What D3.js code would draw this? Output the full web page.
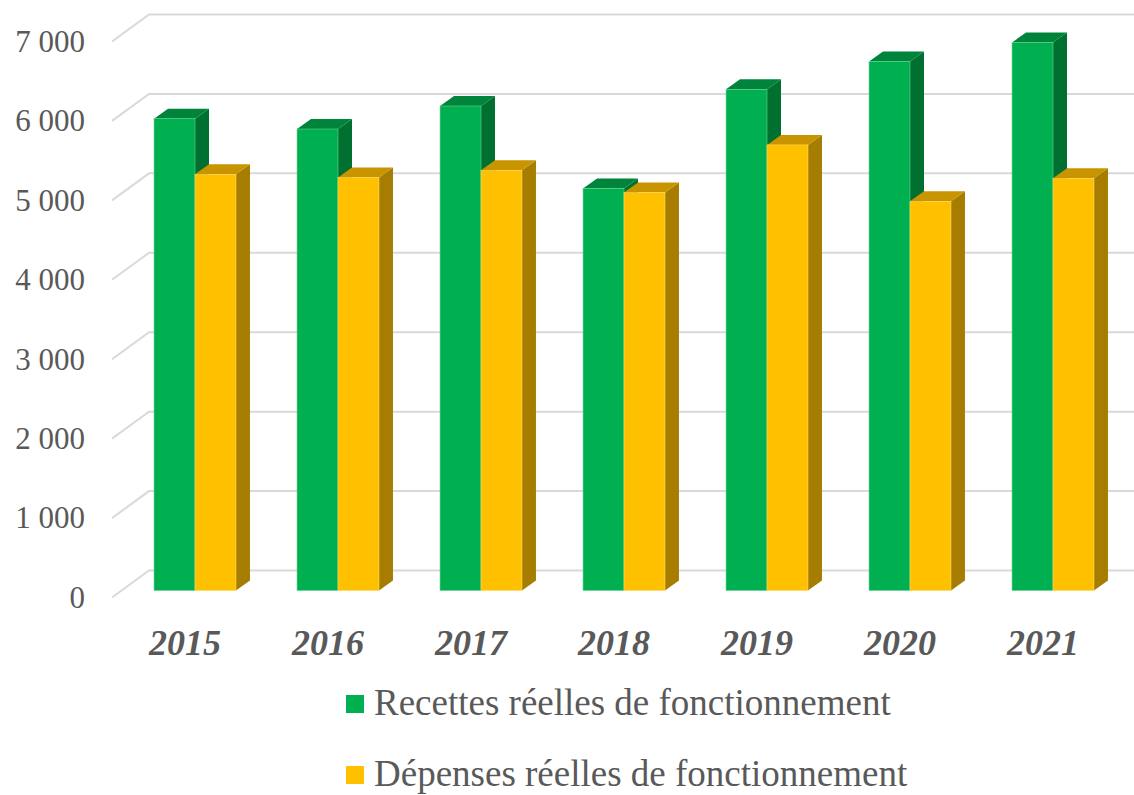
<!DOCTYPE html>
<html>
<head>
<meta charset="utf-8">
<script src="https://cdn.jsdelivr.net/npm/d3@7"></script>
<style>
  html, body { margin: 0; padding: 0; background: #fff; }
  svg { display: block; }
  text { font-family: "Liberation Serif", "Times New Roman", serif; }
</style>
</head>
<body>
<svg width="1134" height="795"></svg>
<script>
const years = ["2015", "2016", "2017", "2018", "2019", "2020", "2021"];
const seriesNames = ["Recettes réelles de fonctionnement", "Dépenses réelles de fonctionnement"];
const recettes = [5940, 5810, 6100, 5060, 6310, 6660, 6900];
const depenses = [5240, 5200, 5290, 5010, 5610, 4900, 5190];
const yTicks = [0, 1000, 2000, 3000, 4000, 5000, 6000, 7000];

const colors = [
  { front: "#00b050", top: "#00843c", side: "#007030", edge: "#5ed48e" },
  { front: "#ffc000", top: "#c89400", side: "#a67d00", edge: "#ffd966" },
];

const svg = d3.select("svg");
const width = +svg.attr("width");

// oblique 3D offsets
const wall = { dx: 37, dy: -27 };   // back wall
const barFront = { dx: 10, dy: -7 }; // where bars start in depth
const barDepth = { dx: 14, dy: -10 };

const x0 = d3.scaleBand()
  .domain(years)
  .range([113.5, 1114.5])
  .paddingInner(0.427)
  .paddingOuter(0.2135);

const x1 = d3.scaleBand()
  .domain([0, 1])
  .range([0, x0.bandwidth()]);

const y = d3.scaleLinear().domain([0, 7000]).range([597.5, 41.5]);

const fr = d3.formatLocale({ decimal: ",", thousands: " ", grouping: [3], currency: ["", " €"] });
const fmt = fr.format(",d");

// gridlines: front diagonal then along the back wall
svg.append("g")
  .selectAll("path")
  .data(yTicks)
  .join("path")
  .attr("d", (d) => {
    const yy = y(d);
    return `M112,${yy} L${112 + wall.dx},${yy + wall.dy} L${width},${yy + wall.dy}`;
  })
  .attr("fill", "none")
  .attr("stroke", "#d9d9d9")
  .attr("stroke-width", 2);

// y axis labels
const yAxis = d3.axisLeft(y).tickValues(yTicks).tickSize(0).tickPadding(27).tickFormat(fmt);
const yg = svg.append("g").attr("transform", "translate(112,0)").call(yAxis);
yg.select(".domain").remove();
yg.attr("font-family", null);
yg.selectAll("text")
  .attr("font-size", 31)
  .attr("fill", "#595959");

// bars
const rows = [];
years.forEach((yr, i) => {
  [recettes[i], depenses[i]].forEach((v, s) => rows.push({ year: yr, s, v }));
});

const bars = svg.append("g")
  .selectAll("g")
  .data(rows)
  .join("g");

const y0 = y(0) + barFront.dy;
const bx = (d) => x0(d.year) + x1(d.s) + barFront.dx;
const bw = x1.bandwidth();
const ty = (d) => y(d.v) + barFront.dy;

bars.append("path")
  .attr("d", (d) => {
    const l = bx(d), r = l + bw, t = ty(d);
    return `M${r},${t} L${r + barDepth.dx},${t + barDepth.dy} L${r + barDepth.dx},${y0 + barDepth.dy} L${r},${y0} Z`;
  })
  .attr("fill", (d) => colors[d.s].side);

bars.append("path")
  .attr("d", (d) => {
    const l = bx(d), r = l + bw, t = ty(d);
    return `M${l},${t} L${l + barDepth.dx},${t + barDepth.dy} L${r + barDepth.dx},${t + barDepth.dy} L${r},${t} Z`;
  })
  .attr("fill", (d) => colors[d.s].top);

bars.append("rect")
  .attr("x", bx)
  .attr("y", ty)
  .attr("width", bw)
  .attr("height", (d) => y0 - ty(d))
  .attr("fill", (d) => colors[d.s].front)
  .attr("stroke", (d) => colors[d.s].edge)
  .attr("stroke-width", 0.6);

// category labels
svg.append("g")
  .selectAll("text")
  .data(years)
  .join("text")
  .attr("x", (d) => x0(d) + x0.bandwidth() / 2)
  .attr("y", 655)
  .attr("text-anchor", "middle")
  .attr("font-weight", "bold")
  .attr("font-style", "italic")
  .attr("font-size", 36)
  .attr("fill", "#595959")
  .text((d) => d);

// legend
const legend = svg.append("g")
  .selectAll("g")
  .data(seriesNames)
  .join("g")
  .attr("transform", (d, i) => `translate(346,${695 + i * 71})`);

legend.append("rect")
  .attr("width", 18)
  .attr("height", 18)
  .attr("fill", (d, i) => colors[i].front);

legend.append("text")
  .attr("x", 28)
  .attr("y", 20)
  .attr("font-size", 37)
  .attr("fill", "#595959")
  .text((d) => d);
</script>
</body>
</html>
